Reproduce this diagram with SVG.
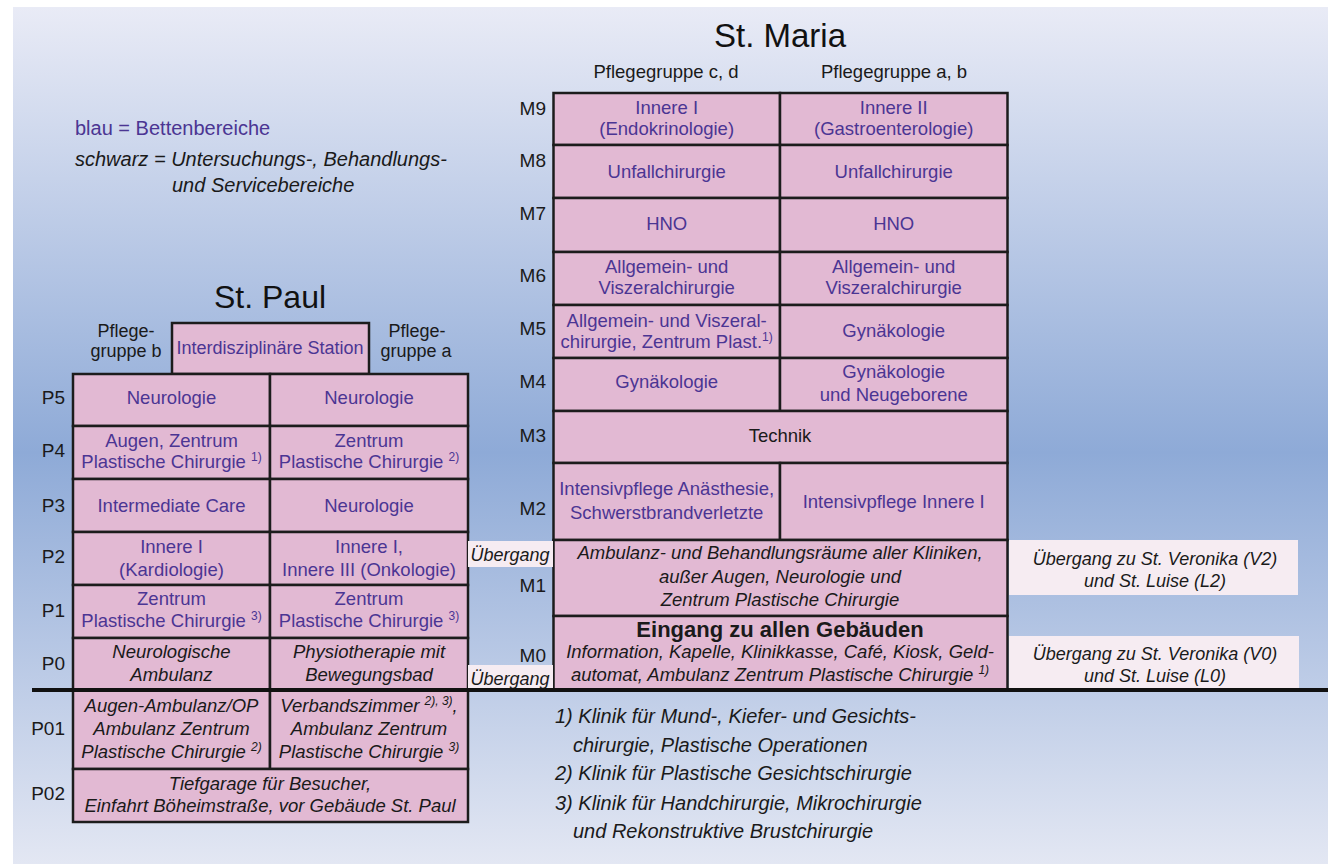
<svg xmlns="http://www.w3.org/2000/svg" width="1328" height="864" viewBox="0 0 1328 864">
<defs>
<linearGradient id="bg" x1="0" y1="0" x2="0" y2="1">
<stop offset="0" stop-color="#e9ebf6"/>
<stop offset="0.52" stop-color="#8eaad7"/>
<stop offset="1" stop-color="#e3e7f3"/>
</linearGradient>
<style>
text{font-family:"Liberation Sans",Arial,sans-serif;}
.cell{fill:#e2b9d3;stroke:#1c1c1c;stroke-width:2.5;}
.ueb{fill:#f6ecf2;}
.b{fill:#4b3593;font-size:18.5px;text-anchor:middle;}
.k{fill:#1a1a1a;font-size:18.5px;text-anchor:middle;}
.i{fill:#1a1a1a;font-size:18.5px;text-anchor:middle;font-style:italic;}
.lbl{fill:#1a1a1a;font-size:19px;text-anchor:end;}
.title{fill:#111;font-size:32px;text-anchor:middle;}
.fn{fill:#1a1a1a;font-size:20px;font-style:italic;}
.sup{font-size:12px;}
</style>
</defs>
<rect x="0" y="0" width="1328" height="864" fill="#ffffff"/>
<rect x="13" y="7" width="1315" height="857" fill="url(#bg)"/>

<g id="legend">
<text x="75" y="135" style="fill:#4b3593;font-size:20px;">blau = Bettenbereiche</text>
<text x="75" y="166" style="fill:#1a1a1a;font-size:20px;font-style:italic;">schwarz = Untersuchungs-, Behandlungs-</text>
<text x="172" y="192" style="fill:#1a1a1a;font-size:20px;font-style:italic;">und Servicebereiche</text>
</g>

<g id="st-maria-header">
<text class="title" x="780" y="47" style="font-size:33px;">St. Maria</text>
<text class="k" x="666" y="78">Pflegegruppe c, d</text>
<text class="k" x="894" y="78">Pflegegruppe a, b</text>
</g>

<g id="st-paul-header">
<text class="title" x="270" y="308">St. Paul</text>
<text class="k" x="126" y="337" style="font-size:18px;">Pflege-</text>
<text class="k" x="126" y="357" style="font-size:18px;">gruppe b</text>
<text class="k" x="417" y="337" style="font-size:18px;">Pflege-</text>
<text class="k" x="416" y="357" style="font-size:18px;">gruppe a</text>
</g>

<g id="m-labels">
<text class="lbl" x="546" y="115">M9</text>
<text class="lbl" x="546" y="167">M8</text>
<text class="lbl" x="546" y="220">M7</text>
<text class="lbl" x="546" y="282">M6</text>
<text class="lbl" x="546" y="335">M5</text>
<text class="lbl" x="546" y="388">M4</text>
<text class="lbl" x="546" y="442">M3</text>
<text class="lbl" x="546" y="515">M2</text>
<text class="lbl" x="546" y="592">M1</text>
<text class="lbl" x="546" y="662">M0</text>
</g>

<g id="p-labels">
<text class="lbl" x="65" y="404">P5</text>
<text class="lbl" x="65" y="457">P4</text>
<text class="lbl" x="65" y="512">P3</text>
<text class="lbl" x="65" y="563">P2</text>
<text class="lbl" x="65" y="617">P1</text>
<text class="lbl" x="65" y="670">P0</text>
<text class="lbl" x="65" y="735">P01</text>
<text class="lbl" x="65" y="800">P02</text>
</g>

<!-- St. Maria cells -->
<g id="m9-left"><rect class="cell" x="553.5" y="93" width="226.5" height="52"/>
<text class="b" x="666.7" y="114">Innere I</text><text class="b" x="666.7" y="135">(Endokrinologie)</text></g>
<g id="m9-right"><rect class="cell" x="780" y="93" width="227.5" height="52"/>
<text class="b" x="893.7" y="114">Innere II</text><text class="b" x="893.7" y="135">(Gastroenterologie)</text></g>
<g id="m8-left"><rect class="cell" x="553.5" y="145" width="226.5" height="53"/>
<text class="b" x="666.7" y="178">Unfallchirurgie</text></g>
<g id="m8-right"><rect class="cell" x="780" y="145" width="227.5" height="53"/>
<text class="b" x="893.7" y="178">Unfallchirurgie</text></g>
<g id="m7-left"><rect class="cell" x="553.5" y="198" width="226.5" height="54"/>
<text class="b" x="666.7" y="230">HNO</text></g>
<g id="m7-right"><rect class="cell" x="780" y="198" width="227.5" height="54"/>
<text class="b" x="893.7" y="230">HNO</text></g>
<g id="m6-left"><rect class="cell" x="553.5" y="252" width="226.5" height="53"/>
<text class="b" x="666.7" y="273">Allgemein- und</text><text class="b" x="666.7" y="294">Viszeralchirurgie</text></g>
<g id="m6-right"><rect class="cell" x="780" y="252" width="227.5" height="53"/>
<text class="b" x="893.7" y="273">Allgemein- und</text><text class="b" x="893.7" y="294">Viszeralchirurgie</text></g>
<g id="m5-left"><rect class="cell" x="553.5" y="305" width="226.5" height="53"/>
<text class="b" x="666.7" y="327">Allgemein- und Viszeral-</text><text class="b" x="666.7" y="348">chirurgie, Zentrum Plast.<tspan class="sup" dy="-7">1)</tspan></text></g>
<g id="m5-right"><rect class="cell" x="780" y="305" width="227.5" height="53"/>
<text class="b" x="893.7" y="337">Gynäkologie</text></g>
<g id="m4-left"><rect class="cell" x="553.5" y="358" width="226.5" height="53"/>
<text class="b" x="666.7" y="388">Gynäkologie</text></g>
<g id="m4-right"><rect class="cell" x="780" y="358" width="227.5" height="53"/>
<text class="b" x="893.7" y="378">Gynäkologie</text><text class="b" x="893.7" y="401">und Neugeborene</text></g>
<g id="m3"><rect class="cell" x="553.5" y="411" width="454" height="52"/>
<text class="k" x="780" y="442">Technik</text></g>
<g id="m2-left"><rect class="cell" x="553.5" y="463" width="226.5" height="77"/>
<text class="b" x="666.7" y="495">Intensivpflege Anästhesie,</text><text class="b" x="666.7" y="519">Schwerstbrandverletzte</text></g>
<g id="m2-right"><rect class="cell" x="780" y="463" width="227.5" height="77"/>
<text class="b" x="893.7" y="508">Intensivpflege Innere I</text></g>
<g id="m1"><rect class="cell" x="553.5" y="540" width="454" height="76"/>
<text class="i" x="780" y="559">Ambulanz- und Behandlungsräume aller Kliniken,</text>
<text class="i" x="780" y="583">außer Augen, Neurologie und</text>
<text class="i" x="780" y="606">Zentrum Plastische Chirurgie</text></g>
<g id="m0"><rect class="cell" x="553.5" y="616" width="454" height="74"/>
<text class="k" x="780" y="637" style="font-weight:bold;font-size:22px;">Eingang zu allen Gebäuden</text>
<text class="i" x="780" y="658">Information, Kapelle, Klinikkasse, Café, Kiosk, Geld-</text>
<text class="i" x="780" y="681">automat, Ambulanz Zentrum Plastische Chirurgie <tspan class="sup" dy="-7">1)</tspan></text></g>

<!-- St. Paul cells -->
<g id="p-interdisziplinaer"><rect class="cell" x="172" y="323" width="197" height="51"/>
<text class="b" x="270" y="354" style="font-size:18px;">Interdisziplinäre Station</text></g>
<g id="p5-left"><rect class="cell" x="73" y="374" width="197" height="52"/>
<text class="b" x="171.5" y="404">Neurologie</text></g>
<g id="p5-right"><rect class="cell" x="270" y="374" width="198" height="52"/>
<text class="b" x="369" y="404">Neurologie</text></g>
<g id="p4-left"><rect class="cell" x="73" y="426" width="197" height="53"/>
<text class="b" x="171.5" y="447">Augen, Zentrum</text><text class="b" x="171.5" y="468">Plastische Chirurgie <tspan class="sup" dy="-7">1)</tspan></text></g>
<g id="p4-right"><rect class="cell" x="270" y="426" width="198" height="53"/>
<text class="b" x="369" y="447">Zentrum</text><text class="b" x="369" y="468">Plastische Chirurgie <tspan class="sup" dy="-7">2)</tspan></text></g>
<g id="p3-left"><rect class="cell" x="73" y="479" width="197" height="53"/>
<text class="b" x="171.5" y="512">Intermediate Care</text></g>
<g id="p3-right"><rect class="cell" x="270" y="479" width="198" height="53"/>
<text class="b" x="369" y="512">Neurologie</text></g>
<g id="p2-left"><rect class="cell" x="73" y="532" width="197" height="53"/>
<text class="b" x="171.5" y="553">Innere I</text><text class="b" x="171.5" y="576">(Kardiologie)</text></g>
<g id="p2-right"><rect class="cell" x="270" y="532" width="198" height="53"/>
<text class="b" x="369" y="553">Innere I,</text><text class="b" x="369" y="576">Innere III (Onkologie)</text></g>
<g id="p1-left"><rect class="cell" x="73" y="585" width="197" height="53"/>
<text class="b" x="171.5" y="605">Zentrum</text><text class="b" x="171.5" y="627">Plastische Chirurgie <tspan class="sup" dy="-7">3)</tspan></text></g>
<g id="p1-right"><rect class="cell" x="270" y="585" width="198" height="53"/>
<text class="b" x="369" y="605">Zentrum</text><text class="b" x="369" y="627">Plastische Chirurgie <tspan class="sup" dy="-7">3)</tspan></text></g>
<g id="p0-left"><rect class="cell" x="73" y="638" width="197" height="52"/>
<text class="i" x="171.5" y="658">Neurologische</text><text class="i" x="171.5" y="681">Ambulanz</text></g>
<g id="p0-right"><rect class="cell" x="270" y="638" width="198" height="52"/>
<text class="i" x="369" y="658">Physiotherapie mit</text><text class="i" x="369" y="681">Bewegungsbad</text></g>
<g id="p01-left"><rect class="cell" x="73" y="690" width="197" height="79"/>
<text class="i" x="171.5" y="712">Augen-Ambulanz/OP</text><text class="i" x="171.5" y="735">Ambulanz Zentrum</text><text class="i" x="171.5" y="758">Plastische Chirurgie <tspan class="sup" dy="-7">2)</tspan></text></g>
<g id="p01-right"><rect class="cell" x="270" y="690" width="198" height="79"/>
<text class="i" x="369" y="712">Verbandszimmer <tspan class="sup" dy="-7">2), 3)</tspan><tspan dy="7">,</tspan></text><text class="i" x="369" y="735">Ambulanz Zentrum</text><text class="i" x="369" y="758">Plastische Chirurgie <tspan class="sup" dy="-7">3)</tspan></text></g>
<g id="p02"><rect class="cell" x="73" y="769" width="395" height="53"/>
<text class="i" x="270" y="790">Tiefgarage für Besucher,</text><text class="i" x="270" y="812">Einfahrt Böheimstraße, vor Gebäude St. Paul</text></g>

<!-- Übergang boxes -->
<g id="uebergang-m1-left"><rect class="ueb" x="468" y="541" width="85" height="26"/>
<text class="i" x="510" y="561" style="font-size:18px;">Übergang</text></g>
<g id="uebergang-m0-left"><rect class="ueb" x="468" y="665" width="85" height="25"/>
<text class="i" x="510" y="685" style="font-size:18px;">Übergang</text></g>
<g id="uebergang-m1-right"><rect class="ueb" x="1009" y="540" width="289" height="55"/>
<text class="i" x="1155" y="565" style="font-size:18px;">Übergang zu St. Veronika (V2)</text>
<text class="i" x="1155" y="587" style="font-size:18px;">und St. Luise (L2)</text></g>
<g id="uebergang-m0-right"><rect class="ueb" x="1009" y="636" width="290" height="54"/>
<text class="i" x="1155" y="660" style="font-size:18px;">Übergang zu St. Veronika (V0)</text>
<text class="i" x="1155" y="682" style="font-size:18px;">und St. Luise (L0)</text></g>

<g id="connectors">
<line x1="32" y1="690" x2="1328" y2="690" stroke="#111" stroke-width="4"/>
</g>

<g id="footnotes">
<text class="fn" x="555" y="723">1) Klinik für Mund-, Kiefer- und Gesichts-</text>
<text class="fn" x="573" y="752">chirurgie, Plastische Operationen</text>
<text class="fn" x="555" y="780">2) Klinik für Plastische Gesichtschirurgie</text>
<text class="fn" x="555" y="810">3) Klinik für Handchirurgie, Mikrochirurgie</text>
<text class="fn" x="573" y="838">und Rekonstruktive Brustchirurgie</text>
</g>
</svg>
